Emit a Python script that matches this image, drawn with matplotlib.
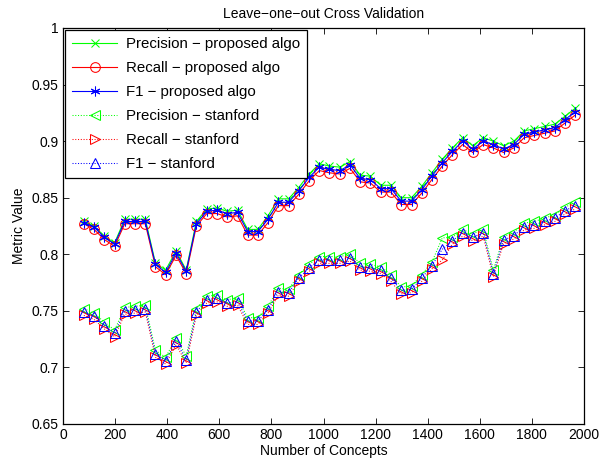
import matplotlib
matplotlib.use("Agg")
import matplotlib.pyplot as plt

plt.rcParams['font.family'] = ['Liberation Sans', 'DejaVu Sans']

concepts = [80, 119, 159, 198, 237, 277, 316, 355, 394, 434, 473, 512, 552, 591,
            630, 670, 709, 748, 787, 827, 866, 905, 945, 984, 1023, 1063, 1102,
            1141, 1180, 1220, 1259, 1298, 1338, 1377, 1416, 1456, 1495, 1534,
            1573, 1613, 1652, 1691, 1731, 1770, 1809, 1849, 1888, 1927, 1966]

prec_prop = [0.829, 0.825, 0.816, 0.810, 0.831, 0.831, 0.831, 0.792, 0.786, 0.803,
             0.786, 0.829, 0.840, 0.841, 0.838, 0.839, 0.822, 0.822, 0.834, 0.849,
             0.849, 0.859, 0.871, 0.880, 0.878, 0.877, 0.882, 0.870, 0.869, 0.861,
             0.861, 0.850, 0.850, 0.860, 0.872, 0.884, 0.894, 0.903, 0.896, 0.903,
             0.900, 0.896, 0.900, 0.909, 0.911, 0.913, 0.915, 0.922, 0.929]
rec_prop = [0.827, 0.822, 0.813, 0.807, 0.827, 0.827, 0.827, 0.789, 0.782, 0.799,
            0.783, 0.825, 0.836, 0.836, 0.833, 0.834, 0.817, 0.817, 0.828, 0.843,
            0.843, 0.853, 0.865, 0.874, 0.872, 0.871, 0.876, 0.864, 0.863, 0.855,
            0.855, 0.844, 0.844, 0.854, 0.866, 0.878, 0.888, 0.897, 0.890, 0.897,
            0.894, 0.890, 0.894, 0.903, 0.905, 0.907, 0.909, 0.916, 0.923]
f1_prop = [0.828, 0.824, 0.815, 0.809, 0.829, 0.829, 0.829, 0.791, 0.784, 0.801,
           0.785, 0.827, 0.838, 0.839, 0.836, 0.837, 0.820, 0.820, 0.831, 0.846,
           0.846, 0.856, 0.868, 0.877, 0.875, 0.874, 0.879, 0.867, 0.866, 0.858,
           0.858, 0.847, 0.847, 0.857, 0.869, 0.881, 0.891, 0.900, 0.893, 0.900,
           0.897, 0.893, 0.897, 0.906, 0.908, 0.910, 0.912, 0.919, 0.926]

prec_stan = [0.752, 0.748, 0.740, 0.733, 0.753, 0.754, 0.755, 0.715, 0.709, 0.726,
             0.710, 0.752, 0.763, 0.764, 0.760, 0.761, 0.744, 0.744, 0.754, 0.770,
             0.769, 0.782, 0.791, 0.798, 0.798, 0.798, 0.800, 0.792, 0.791, 0.789,
             0.782, 0.771, 0.772, 0.782, 0.793, 0.8145, 0.815, 0.822, 0.818, 0.822,
             0.786, 0.8155, 0.8195, 0.8275, 0.829, 0.832, 0.835, 0.8416, 0.846]
rec_stan = [0.746, 0.7425, 0.734, 0.727, 0.747, 0.748, 0.749, 0.709, 0.703, 0.720,
            0.704, 0.746, 0.757, 0.758, 0.754, 0.755, 0.738, 0.738, 0.748, 0.764,
            0.763, 0.776, 0.785, 0.792, 0.792, 0.792, 0.794, 0.786, 0.785, 0.783,
            0.776, 0.765, 0.766, 0.776, 0.787, 0.795, 0.809, 0.816, 0.812, 0.816,
            0.780, 0.8095, 0.8135, 0.8215, 0.823, 0.826, 0.829, 0.8356, 0.840]
f1_stan = [0.749, 0.7455, 0.737, 0.730, 0.750, 0.751, 0.752, 0.712, 0.706, 0.723,
           0.707, 0.749, 0.760, 0.761, 0.757, 0.758, 0.741, 0.741, 0.751, 0.767,
           0.766, 0.779, 0.788, 0.795, 0.795, 0.795, 0.797, 0.789, 0.788, 0.786,
           0.779, 0.768, 0.769, 0.779, 0.790, 0.8045, 0.812, 0.819, 0.815, 0.819,
           0.783, 0.8125, 0.8165, 0.8245, 0.826, 0.829, 0.832, 0.8386, 0.843]

labels = ['Precision \u2212 proposed algo', 'Recall \u2212 proposed algo',
          'F1 \u2212 proposed algo', 'Precision \u2212 stanford',
          'Recall \u2212 stanford', 'F1 \u2212 stanford']

x_ticks = [0, 200, 400, 600, 800, 1000, 1200, 1400, 1600, 1800, 2000]
y_ticks = [0.65, 0.7, 0.75, 0.8, 0.85, 0.9, 0.95, 1.0]
y_tick_labels = ['0.65', '0.7', '0.75', '0.8', '0.85', '0.9', '0.95', '1']

fig = plt.figure(figsize=(6.01, 4.62), dpi=100)
ax = fig.add_axes([63/601, 38/462, 521/601, 396/462])

G, R, B = (0, 1, 0), (1, 0, 0), (0, 0, 1)
lw = 0.8
ax.plot(concepts, prec_prop, '-', color=G, lw=lw, marker='x', ms=5.5, mew=0.75, label=labels[0])
ax.plot(concepts, rec_prop, '-', color=R, lw=lw, marker='o', ms=7, mfc='none', mew=0.75, label=labels[1])
ax.plot(concepts, f1_prop, '-', color=B, lw=lw, marker=(6, 2, 0), ms=7, mew=0.75, label=labels[2])
ax.plot(concepts, prec_stan, ':', color=G, lw=0.75, marker='<', ms=7, mfc='none', mew=0.75, label=labels[3])
ax.plot(concepts, rec_stan, ':', color=R, lw=0.75, marker='>', ms=7, mfc='none', mew=0.75, label=labels[4])
ax.plot(concepts, f1_stan, ':', color=B, lw=0.75, marker='^', ms=7, mfc='none', mew=0.75, label=labels[5])

ax.set_xlim(0, 2000)
ax.set_ylim(0.65, 1.0)
ax.set_xticks(x_ticks)
ax.set_xticklabels([str(t) for t in x_ticks])
ax.set_yticks(y_ticks)
ax.set_yticklabels(y_tick_labels)
ax.tick_params(direction='in', top=True, right=True, length=4, width=0.6, labelsize=10, pad=3)
for s in ax.spines.values():
    s.set_linewidth(0.9)

ax.set_xlabel('Number of Concepts', fontsize=10, labelpad=1)
ax.set_ylabel('Metric Value', fontsize=10, labelpad=4)
ax.set_title('Leave\u2212one\u2212out Cross Validation', fontsize=10, pad=7)

leg = ax.legend(loc='upper left', fontsize=10.8, frameon=True, fancybox=False,
                framealpha=1, edgecolor='black', borderaxespad=0.12,
                handlelength=3.0, handletextpad=0.55, labelspacing=0.66, borderpad=0.5)
leg.get_frame().set_linewidth(0.9)

fig.savefig('out.png', dpi=100)
